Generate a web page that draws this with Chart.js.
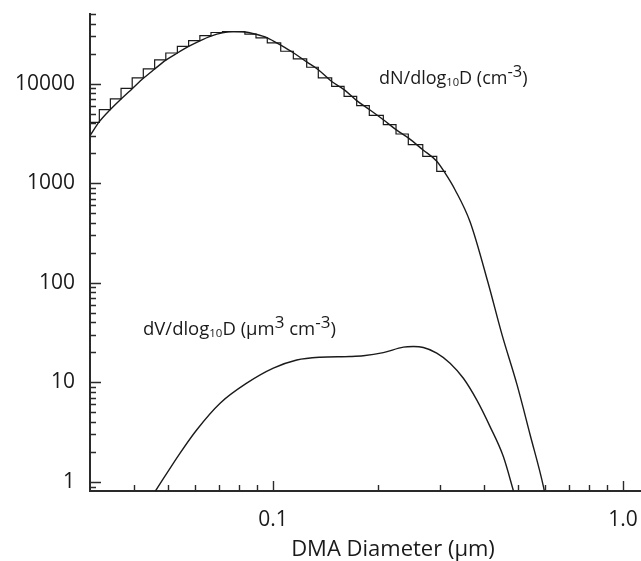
<!DOCTYPE html>
<html>
<head>
<meta charset="utf-8">
<script src="https://cdn.jsdelivr.net/npm/chart.js@4.4.1/dist/chart.umd.min.js"></script>
<style>
  html, body { margin: 0; padding: 0; background: #fff; }
  #wrap { width: 641px; height: 561px; }
</style>
</head>
<body>
<div id="wrap"><canvas id="sizeChart" width="641" height="561"></canvas></div>
<script>
const $ = (s) => document.querySelector(s);

/* ---- Values ---- */
// DMA channel edges (um) and measured dN/dlog10D per channel (cm^-3)
const binEdges = [0.0297, 0.0319, 0.0343, 0.0368, 0.0396, 0.0426, 0.0459, 0.0494, 0.0533, 0.0574,
  0.0618, 0.0665, 0.0717, 0.0771, 0.0831, 0.0894, 0.0963, 0.1052, 0.1143, 0.1248,
  0.1347, 0.1471, 0.1596, 0.1734, 0.1884, 0.2066, 0.2246, 0.2435, 0.2678, 0.2936, 0.3121];
const binCounts = [4080, 5480, 7020, 8970, 11400, 14060, 17300, 20300, 23700, 27000,
  30300, 32600, 33300, 33300, 31400, 28800, 25650, 21130, 17720, 14590,
  11410, 9400, 7450, 6010, 4800, 3870, 3120, 2440, 1860, 1315];

// fitted number distribution
const fitD = [0.0300, 0.0319, 0.0343, 0.0368, 0.0396, 0.0426, 0.0459, 0.0494, 0.0533, 0.0574,
  0.0618, 0.0665, 0.0717, 0.0771, 0.0831, 0.0894, 0.0963, 0.1052, 0.1143, 0.1248,
  0.1347, 0.1471, 0.1596, 0.1734, 0.1884, 0.2066, 0.2246, 0.2435, 0.2678, 0.2936,
  0.3103, 0.3311, 0.3655, 0.4115, 0.4512, 0.4978, 0.5424, 0.5928, 0.6026];
const fitN = [3000, 4150, 5500, 7000, 8900, 11300, 14000, 17200, 20300, 23600,
  26900, 30000, 32300, 33300, 33000, 31300, 28800, 24300, 20400, 16500,
  13800, 10500, 8700, 6750, 5500, 4340, 3450, 2850, 2170, 1660,
  1260, 860, 410, 100, 30, 9.5, 3.0, 0.89, 0.66];

// volume distribution (um^3 cm^-3)
const volD = [0.0458, 0.0542, 0.0605, 0.0706, 0.0841, 0.1002, 0.1169, 0.1362, 0.1660, 0.1811,
  0.2066, 0.2357, 0.2518, 0.2688, 0.2936, 0.3205, 0.3498, 0.3819, 0.4169, 0.4550, 0.4880];
const volV = [0.78, 1.94, 3.33, 6.18, 9.82, 13.9, 16.8, 17.9, 18.2, 18.5,
  19.9, 22.6, 22.9, 22.4, 19.7, 15.6, 11.0, 6.67, 3.60, 1.80, 0.78];

// axes
const xMajor = [0.1, 1.0];
const xTickLabels = ["0.1", "1.0"];
const xMinor = [0.04, 0.05, 0.06, 0.07, 0.08, 0.09, 0.2, 0.3, 0.4, 0.5, 0.6, 0.7, 0.8, 0.9];
const yMajor = [1, 10, 100, 1000, 10000];
const yTickLabels = ["1", "10", "100", "1000", "10000"];
const yMinor = [0.9, 2, 3, 4, 5, 6, 7, 8, 9, 20, 30, 40, 50, 60, 70, 80, 90,
  200, 300, 400, 500, 600, 700, 800, 900, 2000, 3000, 4000, 5000, 6000, 7000, 8000, 9000,
  20000, 30000, 40000, 50000];

const xTitle = "DMA Diameter (µm)";
const labelN = [["dN/dlog", "n"], ["10", "sub"], ["D (cm", "n"], ["-3", "sup"], [")", "n"]];
const labelV = [["dV/dlog", "n"], ["10", "sub"], ["D (µm", "n"], ["3", "sup"], [" cm", "n"], ["-3", "sup"], [")", "n"]];

/* ---- Style ---- */
const FONT = "'Open Sans', 'Noto Sans', sans-serif";
const INK = "#1a1a1a";
const AXIS = "#2a2a2a";

function tickList(major, minor) {
  return [...major, ...minor].sort((a, b) => a - b).map((v) => ({ value: v, major: major.includes(v) }));
}

// rich text with sub/superscripts
function drawRich(ctx, x, y, parts, size) {
  let cx = x;
  parts.forEach(([t, kind]) => {
    let fs = size, dy = 0;
    if (kind === "sub") { fs = size * 0.62; dy = size * 0.1; }
    if (kind === "sup") { fs = size * 0.92; dy = -size * 0.4; }
    ctx.font = `${fs}px ${FONT}`;
    ctx.fillText(t, cx, y + dy);
    cx += ctx.measureText(t).width;
  });
}

// drop the label-overhang padding Chart.js adds so the plot area sits where the figure has it
function noOverhang(s) {
  s.paddingLeft = 0; s.paddingRight = 0; s.paddingTop = 0; s.paddingBottom = 0;
}

const decorations = {
  id: "decorations",
  afterDraw(chart) {
    const { ctx, chartArea: a, scales: { x, y } } = chart;
    ctx.save();
    // inward tick marks
    ctx.strokeStyle = AXIS;
    ctx.lineWidth = 1.4;
    ctx.beginPath();
    y.ticks.forEach((t) => {
      const py = Math.round(y.getPixelForValue(t.value)) + 0.5;
      ctx.moveTo(a.left, py);
      ctx.lineTo(a.left + (t.major ? 11 : 6), py);
    });
    x.ticks.forEach((t) => {
      const px = Math.round(x.getPixelForValue(t.value)) + 0.5;
      ctx.moveTo(px, a.bottom);
      ctx.lineTo(px, a.bottom - (t.major ? 10 : 6));
    });
    ctx.stroke();

    // axis title
    ctx.fillStyle = INK;
    ctx.textBaseline = "alphabetic";
    ctx.textAlign = "center";
    ctx.font = `22px ${FONT}`;
    ctx.fillText(xTitle, 393, 556);

    // curve labels
    ctx.textAlign = "left";
    drawRich(ctx, 379, 84, labelN, 18);
    drawRich(ctx, 143, 335, labelV, 18.5);
    ctx.restore();
  },
};

const lineStyle = { borderColor: INK, borderWidth: 1.4, pointRadius: 0, fill: false, showLine: true };

new Chart($("#sizeChart"), {
  type: "scatter",
  data: {
    datasets: [
      {
        label: "DMA channels",
        // each channel value held from its lower edge to the next edge
        data: binEdges.map((e, i) => ({ x: e, y: binCounts[Math.min(i, binCounts.length - 1)] })),
        stepped: "before",
        ...lineStyle,
        borderWidth: 1.2,
      },
      {
        label: "dN fit",
        data: fitD.map((d, i) => ({ x: d, y: fitN[i] })),
        cubicInterpolationMode: "monotone",
        ...lineStyle,
      },
      {
        label: "dV",
        data: volD.map((d, i) => ({ x: d, y: volV[i] })),
        cubicInterpolationMode: "monotone",
        ...lineStyle,
      },
    ],
  },
  options: {
    responsive: false,
    animation: false,
    layout: { padding: { top: 14, right: 1, left: 0, bottom: 0 } },
    plugins: { legend: { display: false }, tooltip: { enabled: false } },
    scales: {
      x: {
        type: "logarithmic",
        min: 0.03,
        max: 1.118,
        grid: { display: false, drawTicks: false },
        border: { display: true, color: AXIS, width: 2 },
        afterBuildTicks: (s) => { s.ticks = tickList(xMajor, xMinor); },
        afterFit: (s) => { s.height = 70; noOverhang(s); },
        ticks: {
          autoSkip: false, maxRotation: 0, padding: 16, color: INK,
          font: { family: FONT, size: 21 },
          callback: (v) => { const i = xMajor.indexOf(v); return i >= 0 ? xTickLabels[i] : ""; },
        },
      },
      y: {
        type: "logarithmic",
        min: 0.812,
        max: 50000,
        grid: { display: false, drawTicks: false },
        border: { display: true, color: AXIS, width: 2 },
        afterBuildTicks: (s) => { s.ticks = tickList(yMajor, yMinor); },
        afterFit: (s) => { s.width = 90; noOverhang(s); },
        ticks: {
          autoSkip: false, padding: 15, color: INK,
          font: { family: FONT, size: 21 },
          callback: (v) => { const i = yMajor.indexOf(v); return i >= 0 ? yTickLabels[i] : ""; },
        },
      },
    },
  },
  plugins: [decorations],
});
</script>
</body>
</html>
